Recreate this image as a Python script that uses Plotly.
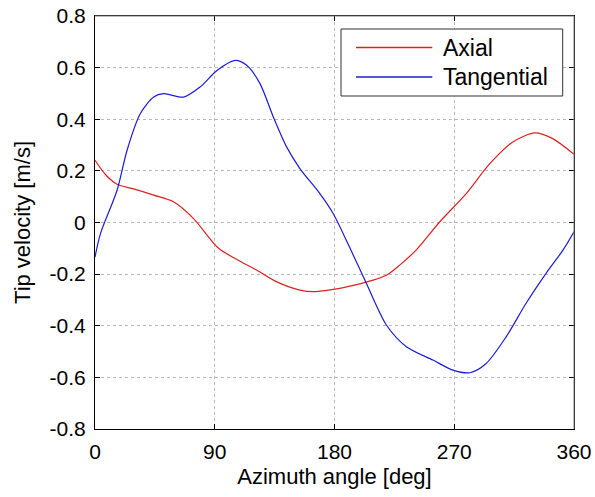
import plotly.graph_objects as go

axial_angle = [0, 8, 16.6, 29.1, 44.1, 59, 74.1, 92.9, 109, 121.7, 136.7, 154, 164, 179, 186.7, 203, 219, 229, 241.7, 259, 279, 296.7, 314, 330.5, 344, 360]
axial_vel = [0.241, 0.185, 0.148, 0.130, 0.106, 0.080, 0.015, -0.10, -0.150, -0.185, -0.230, -0.262, -0.268, -0.259, -0.252, -0.232, -0.204, -0.165, -0.105, 0.002, 0.112, 0.228, 0.312, 0.347, 0.325, 0.264]

tang_angle = [0, 4.1, 16.6, 24.1, 34.1, 44.1, 51.6, 66.6, 79, 91.7, 105.4, 114, 124, 134, 144, 154, 169, 179, 191.7, 204, 219, 234, 254, 269, 281.7, 294, 309, 324, 339, 351.7, 360]
tang_vel = [-0.134, -0.043, 0.125, 0.28, 0.422, 0.486, 0.499, 0.486, 0.525, 0.589, 0.628, 0.609, 0.538, 0.409, 0.293, 0.209, 0.112, 0.035, -0.10, -0.236, -0.397, -0.481, -0.533, -0.572, -0.582, -0.546, -0.443, -0.313, -0.197, -0.107, -0.036]

series_names = ["Axial", "Tangential"]
series_colors = ["#e0201c", "#1c1cd8"]

x_ticks = [0, 90, 180, 270, 360]
y_ticks = [-0.8, -0.6, -0.4, -0.2, 0, 0.2, 0.4, 0.6, 0.8]
y_labels = ["-0.8", "-0.6", "-0.4", "-0.2", "0", "0.2", "0.4", "0.6", "0.8"]

font = "Liberation Sans, Arial, sans-serif"

fig = go.Figure()
fig.add_trace(go.Scatter(x=axial_angle, y=axial_vel, mode="lines", name=series_names[0],
                         line=dict(color=series_colors[0], width=1.2, shape="spline", smoothing=0.8)))
fig.add_trace(go.Scatter(x=tang_angle, y=tang_vel, mode="lines", name=series_names[1],
                         line=dict(color=series_colors[1], width=1.2, shape="spline", smoothing=0.8)))

axis_common = dict(showline=True, linecolor="black", linewidth=1, mirror="allticks",
                   ticks="inside", ticklen=5, tickcolor="black", automargin=False,
                   showgrid=True, gridcolor="#b8b8b8", griddash="dot", gridwidth=1,
                   zeroline=False, tickfont=dict(size=21, color="black", family=font))

fig.update_layout(
    width=595, height=497,
    margin=dict(l=95, r=21, t=16, b=68),
    paper_bgcolor="white", plot_bgcolor="white",
    font=dict(family=font, color="black"),
    xaxis=dict(range=[0, 360], tickvals=x_ticks, ticklabelstandoff=4, **axis_common,
               title=dict(text="Azimuth angle [deg]", font=dict(size=22), standoff=6)),
    yaxis=dict(range=[-0.8, 0.8], tickvals=y_ticks, ticktext=y_labels, ticklabelstandoff=4, **axis_common,
               title=dict(text="Tip velocity [m/s]", font=dict(size=22), standoff=12)),
    showlegend=False,
)

# legend box drawn like the MATLAB legend
shapes = [
    dict(type="rect", xref="paper", yref="paper", x0=0.5136, x1=0.9764, y0=0.8063, y1=0.9685,
         line=dict(color="#333333", width=1), fillcolor="white", layer="above"),
]
legend_y = [0.9237, 0.8523]
for name, color, ly in zip(series_names, series_colors, legend_y):
    shapes.append(dict(type="line", xref="paper", yref="paper", x0=0.5449, x1=0.7042, y0=ly, y1=ly,
                       line=dict(color=color, width=1.3), layer="above"))
    fig.add_annotation(x=0.7223, y=ly, xref="paper", yref="paper", text=name, showarrow=False,
                       xanchor="left", yanchor="middle", font=dict(size=23, family=font, color="black"))
# gray top and right box edges as in the reference
shapes.append(dict(type="line", xref="paper", yref="paper", x0=0, x1=1, y0=1, y1=1,
                   line=dict(color="#7a7a7a", width=1), layer="above"))
shapes.append(dict(type="line", xref="paper", yref="paper", x0=1, x1=1, y0=0, y1=1,
                   line=dict(color="#7a7a7a", width=1), layer="above"))
fig.update_layout(shapes=shapes)

fig.write_html("out.html")
